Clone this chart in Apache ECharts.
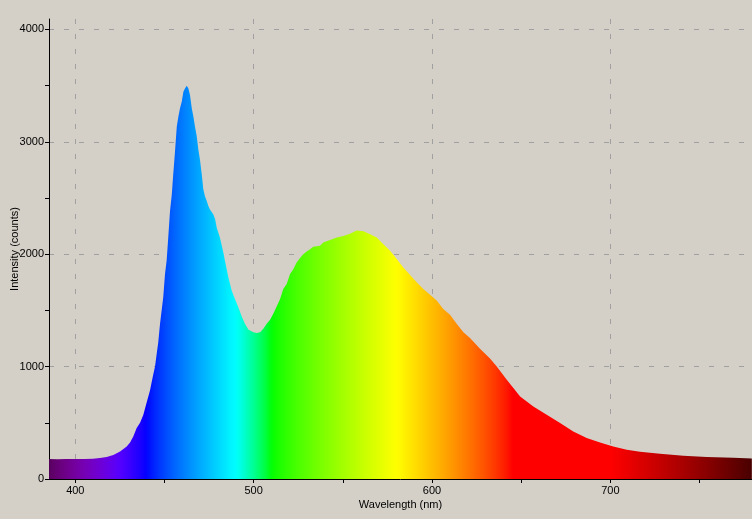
<!DOCTYPE html>
<html>
<head>
<meta charset="utf-8">
<script src="https://cdn.jsdelivr.net/npm/echarts@6/dist/echarts.min.js"></script>
<style>
html,body{margin:0;padding:0;background:#d4d0c8;}
#chart{width:752px;height:519px;}
</style>
</head>
<body>
<div id="chart"></div>
<script>
// Wavelength (nm) and intensity (counts)
const wavelength = [385.3,390,395,400,405,409.9,413.8,417.6,421.3,425.1,428.8,430.7,432.5,434.4,436.3,438.1,440.0,441.9,442.8,443.7,444.7,445.6,446.5,447.5,448.4,449.3,450.3,451.2,452.1,453.1,454.1,454.9,455.9,456.9,457.8,458.7,459.7,460.6,461.5,462.5,463.4,464.3,465.3,466.2,467.1,468.1,469.0,469.9,470.9,471.8,472.7,473.7,474.6,475.5,477.4,478.4,479.3,481.1,483.0,483.9,485.8,487.7,489.5,491.4,493.3,495.1,497.0,497.9,499.8,501.7,503.6,505.4,507.3,509.2,511.0,512.9,514.8,516.6,518.5,520.4,522.3,524.1,526.0,527.8,529.7,531.6,533.4,537.2,539.0,542.8,546.6,550.3,554.0,557.8,561.5,565.3,569.0,572.7,576.5,580.2,583.9,587.7,591.4,595.1,598.9,602.6,606.3,610.1,613.8,617.6,621.3,626.9,632.5,636.3,641.9,645.6,649.4,656.8,664.3,671.8,679.2,686.7,694.2,701.6,709.2,716.6,727.8,740.9,754.0,768.9,779.3];
const intensity = [177,176,178,177,179,180,186,195,213,245,290,325,379,453,500,570,680,790,860,930,1000,1110,1215,1381,1498,1616,1823,1941,2147,2383,2531,2708,2914,3135,3224,3297,3357,3445,3474,3498,3474,3416,3297,3224,3135,3047,2929,2841,2708,2575,2516,2472,2429,2398,2354,2310,2236,2147,2014,1941,1794,1675,1602,1527,1445,1381,1330,1327,1306,1299,1306,1336,1381,1416,1469,1534,1602,1690,1735,1823,1867,1926,1965,2000,2023,2044,2065,2074,2104,2125,2149,2162,2182,2210,2205,2177,2148,2089,2030,1956,1882,1815,1750,1690,1640,1588,1513,1460,1381,1306,1255,1159,1071,1001,883,809,734,645,572,498,423,364,325,290,260,243,225,207,196,189,182];
const xMajorTicks = [400,500,600,700];
const xMinorTicks = [400,450,500,550,600,650,700,750];
const yMajorTicks = [0,1000,2000,3000,4000];
const yMinorTicks = [0,500,1000,1500,2000,2500,3000,3500,4000];
const xMin = 385.25, xMax = 779.4, yMin = 0, yMax = 4092;

function specColor(l){
  let r,g,b;
  if (l<440){r=-(l-440)/60;g=0;b=1;}
  else if (l<490){r=0;g=(l-440)/50;b=1;}
  else if (l<510){r=0;g=1;b=-(l-510)/20;}
  else if (l<580){r=(l-510)/70;g=1;b=0;}
  else if (l<645){r=1;g=-(l-645)/65;b=0;}
  else {r=1;g=0;b=0;}
  let f=1;
  if (l<425) f=0.2+0.8*(l-380)/45;
  else if (l>700) f=1-0.8*(l-700)/80;
  const c=v=>v<=0?0:Math.round(255*Math.pow(v*f,0.8));
  return 'rgb('+c(r)+','+c(g)+','+c(b)+')';
}
const l0 = wavelength[0], l1 = wavelength[wavelength.length-1];
const stops = [];
for (let l=l0; l<=l1+0.01; l+=2){ stops.push({offset:Math.min(1,(l-l0)/(l1-l0)), color:specColor(l)}); }
stops.push({offset:1,color:specColor(l1)});

const data = wavelength.map((w,i)=>[w,intensity[i]]);
const font = {color:'#000',fontSize:11,fontFamily:'Liberation Sans'};
const grid = {type:[5,10],color:'#a0a0a0',width:1};
const plain = v => String(v);

const chart = echarts.init(document.getElementById('chart'),null,{renderer:'canvas'});
chart.setOption({
  backgroundColor:'#d4d0c8',
  animation:false,
  grid:{left:49,right:0,top:19,bottom:40,containLabel:false,outerBoundsMode:'none'},
  xAxis:[{
    type:'value',min:xMin,max:xMax,position:'bottom',
    name:'Wavelength (nm)',nameLocation:'middle',nameGap:20,nameMoveOverlap:false,nameTextStyle:font,
    axisLine:{show:true,lineStyle:{color:'#000',width:1}},
    axisTick:{show:true,inside:false,length:4,customValues:xMinorTicks,lineStyle:{color:'#000'}},
    axisLabel:Object.assign({customValues:xMajorTicks,margin:6,formatter:plain},font),
    splitLine:{show:false}
  },{
    type:'value',min:xMin,max:xMax,position:'bottom',
    axisLine:{show:false},
    axisTick:{show:false,customValues:xMajorTicks},
    axisLabel:{show:false},
    splitLine:{show:true,lineStyle:grid}
  }],
  yAxis:[{
    type:'value',min:yMin,max:yMax,position:'left',
    name:'Intensity (counts)',nameLocation:'middle',nameGap:29,nameMoveOverlap:false,nameTextStyle:font,
    axisLine:{show:true,lineStyle:{color:'#000',width:1}},
    axisTick:{show:true,inside:false,length:4,customValues:yMinorTicks,lineStyle:{color:'#000'}},
    axisLabel:Object.assign({customValues:yMajorTicks,margin:5,formatter:plain},font),
    splitLine:{show:false}
  },{
    type:'value',min:yMin,max:yMax,position:'left',
    axisLine:{show:false},
    axisTick:{show:false,customValues:[1000,2000,3000,4000]},
    axisLabel:{show:false},
    splitLine:{show:true,lineStyle:grid}
  }],
  series:[{
    type:'line',xAxisIndex:0,yAxisIndex:0,data:data,
    showSymbol:false,symbol:'none',
    lineStyle:{width:0,opacity:0},
    areaStyle:{opacity:1,color:new echarts.graphic.LinearGradient(0,0,1,0,stops)},
    z:3
  }]
});
</script>
</body>
</html>
